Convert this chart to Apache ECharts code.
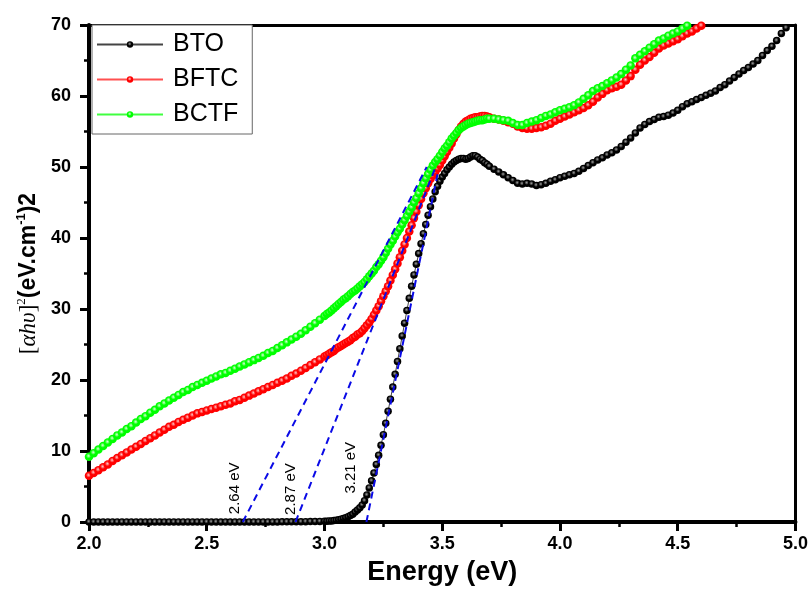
<!DOCTYPE html>
<html>
<head>
<meta charset="utf-8">
<script src="https://cdn.jsdelivr.net/npm/echarts@6/dist/echarts.min.js"></script>
<style>html,body{margin:0;padding:0;background:#fff}#c{width:811px;height:591px}</style>
</head>
<body>
<div id="c"></div>
<script>
// Energy sampling grid (eV): 2.00-3.00 step 0.02, 3.01-3.70 step 0.01, 3.72-5.00 step 0.02
const energy = [];
for (let i = 0; i <= 50; i++) energy.push(+(2 + i * 0.02).toFixed(2));
for (let i = 1; i <= 70; i++) energy.push(+(3 + i * 0.01).toFixed(2));
for (let i = 1; i <= 64; i++) energy.push(+(3.7 + i * 0.02).toFixed(2));

const seriesNames = ['BTO', 'BFTC', 'BCTF'];

const bto = [
  0,0,0,0,0,0,0,0,0,0, 0,0,0,0,0,0,0,0,0,0, 0,0,0,0,0,0,0,0,0,0, 0,0,0,0,0,0,0,0,0,0, 0,
  0.02,0.02,0.03,0.03,0.04,0.05,0.06,0.07,0.08,0.1,
  0.1,0.15,0.15,0.2,0.25,0.3,0.4,0.5,0.6,0.75,
  0.9,1.1,1.4,1.7,2.0,2.4,3.0,3.8,4.8,5.8,
  6.9,8.1,9.4,10.8,12.3,13.9,15.6,17.3,19.0,20.8,
  22.6,24.4,26.2,28.0,29.8,31.5,33.2,34.8,36.3,37.8,
  39.2,40.6,41.9,43.2,44.4,45.5,46.5,47.3,48.0,48.6,
  49.1,49.6,50.0,50.4,50.7,50.9,51.1,51.2,51.2,51.1,
  51.2,51.4,51.6,51.6,51.4,51.1,50.9,50.6,50.4,50.1,
  49.7,49.3,48.9,48.5,48.1,47.7,47.6,47.7,47.6,47.4,
  47.5,47.7,48.0,48.2,48.5,48.7,48.9,49.1,49.4,49.8,
  50.2,50.6,51.0,51.3,51.7,52.0,52.4,52.9,53.5,54.1,
  54.8,55.5,56.0,56.4,56.7,57.0,57.1,57.3,57.6,58.0,
  58.5,58.9,59.2,59.5,59.8,60.1,60.4,60.7,61.2,61.6,
  62.1,62.6,63.1,63.6,64.0,64.5,65.0,65.7,66.4,67.0,
  67.8,68.8,69.6
];

const bftc = [
  6.5,6.9,7.3,7.7,8.1,8.6,9.0,9.4,9.8,10.2,
  10.6,11.0,11.4,11.8,12.2,12.6,13.0,13.4,13.7,14.1,
  14.4,14.7,15.0,15.3,15.5,15.7,15.9,16.1,16.3,16.5,
  16.7,17.0,17.2,17.5,17.8,18.1,18.4,18.7,19.0,19.3,
  19.6,19.9,20.2,20.6,20.9,21.3,21.7,22.1,22.5,22.9,
  23.3,
  23.5,23.7,23.9,24.1,24.4,24.6,24.8,25.0,25.2,25.4,
  25.6,25.9,26.1,26.4,26.6,26.9,27.3,27.7,28.1,28.6,
  29.2,29.8,30.4,31.1,31.8,32.5,33.2,34.0,34.8,35.6,
  36.4,37.3,38.2,39.1,40.0,40.9,41.8,42.8,43.7,44.6,
  45.5,46.3,47.0,47.7,48.3,48.8,49.3,49.8,50.3,50.9,
  51.5,52.1,52.7,53.3,54.0,54.6,55.2,55.7,56.1,56.4,
  56.6,56.8,56.9,57.0,57.0,57.1,57.2,57.2,57.1,57.0,
  56.8,56.7,56.5,56.3,56.1,55.7,55.5,55.4,55.4,55.5,
  55.6,55.8,56.1,56.5,56.8,57.1,57.4,57.7,58.0,58.3,
  58.7,59.2,59.8,60.3,60.8,61.1,61.3,61.6,62.2,62.8,
  63.7,64.4,65.0,65.5,66.1,66.7,67.1,67.4,67.7,68.0,
  68.4,68.8,69.1,69.5,69.9,70.3
];

const bctf = [
  9.2,9.7,10.2,10.7,11.2,11.7,12.2,12.6,13.1,13.5,
  14.0,14.5,14.9,15.4,15.8,16.3,16.7,17.1,17.5,17.9,
  18.3,18.6,19.0,19.3,19.6,19.9,20.2,20.5,20.8,21.0,
  21.3,21.6,21.9,22.2,22.5,22.8,23.1,23.4,23.8,24.1,
  24.5,24.9,25.3,25.7,26.1,26.5,27.0,27.5,28.0,28.5,
  29.0,
  29.3,29.5,29.8,30.1,30.4,30.7,31.0,31.3,31.5,31.8,
  32.1,32.4,32.6,32.9,33.2,33.5,33.8,34.2,34.6,35.0,
  35.4,35.9,36.3,36.8,37.3,37.9,38.5,39.1,39.6,40.2,
  40.8,41.3,41.9,42.5,43.1,43.7,44.3,45.0,45.6,46.3,
  47.0,47.7,48.4,49.0,49.6,50.2,50.7,51.1,51.6,52.1,
  52.6,53.0,53.5,54.0,54.4,54.8,55.2,55.5,55.7,55.9,
  56.1,56.2,56.3,56.4,56.5,56.6,56.6,56.7,56.8,56.8,
  56.8,56.7,56.6,56.5,56.2,55.9,55.9,56.2,56.4,56.6,
  56.9,57.2,57.4,57.7,58.0,58.2,58.4,58.7,59.1,59.6,
  60.1,60.7,61.1,61.4,61.8,62.2,62.6,63.1,63.7,64.3,
  65.3,65.8,66.3,66.8,67.3,67.8,68.1,68.5,68.8,69.1,
  69.5,69.9,70.3
];

// Tauc tangent lines: start and end points (E, value)
const tangentStarts = [[2.653, 0], [2.877, 0], [3.178, 0]];
const tangentEnds   = [[3.434, 50], [3.472, 50], [3.48, 49]];
// Band-gap annotations: anchor (E, value) and text
const gapLabelPos = [[2.619, 1.1], [2.856, 1.0], [3.114, 4.0]];
const gapLabelText = ['2.64 eV', '2.87 eV', '3.21 eV'];

const xTicks = { min: 2, max: 5, interval: 0.5 };
const yTicks = { min: 0, max: 70, interval: 10 };

function pairs(vals) { return vals.map((v, i) => [energy[i], v]); }
function ball(base, hi) {
  return { type: 'radial', x: 0.45, y: 0.4, r: 0.6,
    colorStops: [{ offset: 0, color: hi }, { offset: 0.5, color: base }, { offset: 1, color: base }] };
}

const colors = { BTO: '#000000', BFTC: '#ff0000', BCTF: '#00ff00' };
const hiCol = { BTO: '#a0a0a0', BFTC: '#ffc8c8', BCTF: '#d8ffd8' };
const lineCol = { BTO: '#444444', BFTC: '#ff5050', BCTF: '#40ff40' };
const sizes = { BTO: 7.5, BFTC: 8.5, BCTF: 8.5 };
const vals = { BTO: bto, BFTC: bftc, BCTF: bctf };

const series = seriesNames.map(n => ({
  name: n, type: 'line', data: pairs(vals[n]),
  symbol: 'circle', symbolSize: sizes[n], showAllSymbol: true, clip: true,
  lineStyle: { color: lineCol[n], width: 1 },
  itemStyle: { color: ball(colors[n], hiCol[n]), borderWidth: 0 },
  emphasis: { disabled: true }
}));

tangentStarts.forEach((s, i) => {
  series.push({
    type: 'line', data: [s, tangentEnds[i]], symbol: 'none', silent: true, z: 5,
    lineStyle: { color: '#0a0ae6', width: 2, type: [7, 5] }
  });
});

series.push({
  type: 'scatter', symbolSize: 0, silent: true, z: 6,
  data: gapLabelPos.map((p, i) => ({ value: p, name: gapLabelText[i] })),
  label: { show: true, formatter: '{b}', position: 'inside', rotate: 90, align: 'left', verticalAlign: 'middle',
    fontSize: 15, color: '#000', fontFamily: 'Liberation Sans', opacity: 1 }
});

const tickCommon = {
  axisTick: { show: true, inside: false, length: 9, lineStyle: { color: '#000', width: 3 } },
  minorTick: { show: true, splitNumber: 2, length: 5, lineStyle: { color: '#000', width: 2.5 } }
};

const chart = echarts.init(document.getElementById('c'), null, { renderer: 'canvas' });
chart.setOption({
  animation: false,
  backgroundColor: '#fff',
  grid: { left: 89, right: 14, top: 25, bottom: 64, show: false },
  legend: {
    data: seriesNames, orient: 'vertical', left: 92, top: 25,
    backgroundColor: '#fff', borderColor: '#666', borderWidth: 1, borderRadius: 0,
    padding: [7, 14, 7, 4], itemWidth: 66, itemHeight: 8, itemGap: 10,
    textStyle: { fontSize: 25, fontFamily: 'Liberation Sans', color: '#000', padding: [0, 0, 0, 5], lineHeight: 22 }
  },
  xAxis: [{
    type: 'value', position: 'bottom', min: xTicks.min, max: xTicks.max, interval: xTicks.interval,
    name: 'Energy (eV)', nameLocation: 'middle', nameGap: 37,
    nameTextStyle: { fontSize: 27, fontWeight: 'bold', fontFamily: 'Liberation Sans', color: '#000' },
    axisLine: { show: true, onZero: false, lineStyle: { color: '#000', width: 4 } },
    axisTick: tickCommon.axisTick, minorTick: tickCommon.minorTick,
    splitLine: { show: false }, minorSplitLine: { show: false },
    axisLabel: { show: true, margin: 13, fontSize: 18, fontWeight: 'bold', fontFamily: 'Liberation Sans', color: '#000',
      formatter: v => v.toFixed(1) }
  }, {
    type: 'value', position: 'top', min: xTicks.min, max: xTicks.max, interval: xTicks.interval,
    axisLine: { show: true, onZero: false, lineStyle: { color: '#000', width: 3 } },
    axisTick: { show: false }, axisLabel: { show: false }, splitLine: { show: false }
  }],
  yAxis: [{
    type: 'value', position: 'left', min: yTicks.min, max: yTicks.max, interval: yTicks.interval,
    name: '{br|[}{it|αhυ}{br|]}{sp|2}{b|(eV.cm}{sup|-1}{b|)2}',
    nameLocation: 'middle', nameGap: 46,
    nameTextStyle: {
      color: '#000',
      rich: {
        br: { fontFamily: 'Liberation Serif', fontSize: 23, color: '#000', lineHeight: 28 },
        it: { fontFamily: 'Liberation Serif', fontStyle: 'italic', fontSize: 23, color: '#000', lineHeight: 28 },
        sp: { fontFamily: 'Liberation Serif', fontSize: 13, color: '#000', verticalAlign: 'top', lineHeight: 28 },
        b: { fontFamily: 'Liberation Sans', fontWeight: 'bold', fontSize: 23, color: '#000', lineHeight: 28 },
        sup: { fontFamily: 'Liberation Sans', fontWeight: 'bold', fontSize: 13, color: '#000', verticalAlign: 'top', lineHeight: 28 }
      }
    },
    axisLine: { show: true, onZero: false, lineStyle: { color: '#000', width: 4 } },
    axisTick: tickCommon.axisTick, minorTick: tickCommon.minorTick,
    splitLine: { show: false }, minorSplitLine: { show: false },
    axisLabel: { show: true, margin: 18, fontSize: 18, fontWeight: 'bold', fontFamily: 'Liberation Sans', color: '#000' }
  }, {
    type: 'value', position: 'right', min: yTicks.min, max: yTicks.max, interval: yTicks.interval,
    axisLine: { show: true, onZero: false, lineStyle: { color: '#000', width: 3 } },
    axisTick: { show: false }, axisLabel: { show: false }, splitLine: { show: false }
  }],
  series: series
});
</script>
</body>
</html>
